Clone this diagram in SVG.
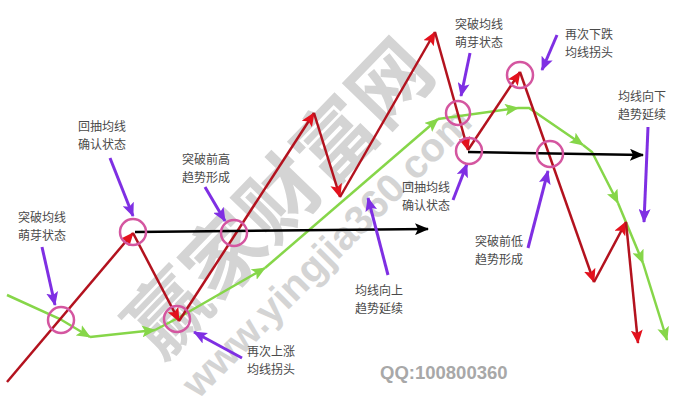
<svg xmlns="http://www.w3.org/2000/svg" width="687" height="417" viewBox="0 0 687 417">
<defs>
<style>
.lbl{font-family:"Noto Sans CJK SC","Noto Sans",sans-serif;font-size:12px;fill:#4a4a4a}
.wm{font-family:"Noto Sans CJK SC","Liberation Sans",sans-serif;font-weight:bold;fill:#d4d4d4}
.red{stroke:#b3121e;stroke-width:2.5;fill:none;marker-end:url(#ar)}
.grn{stroke:#86d649;stroke-width:2.5;fill:none;marker-end:url(#ag)}
.blk{stroke:#000;stroke-width:2.5;fill:none;marker-end:url(#ak)}
.pur{stroke:#7f2fe3;stroke-width:3;fill:none;marker-end:url(#ap)}
.cir{stroke:#d456a0;stroke-width:2.5;fill:none}
</style>
<marker id="ar" markerUnits="userSpaceOnUse" markerWidth="14" markerHeight="12" refX="13" refY="6" orient="auto"><path d="M0,0 L14,6 L0,12 L3,6 z" fill="#e3111d"/></marker>
<marker id="ag" markerUnits="userSpaceOnUse" markerWidth="14" markerHeight="12" refX="13" refY="6" orient="auto"><path d="M0,0 L14,6 L0,12 L3,6 z" fill="#86d649"/></marker>
<marker id="ak" markerUnits="userSpaceOnUse" markerWidth="14" markerHeight="12" refX="13" refY="6" orient="auto"><path d="M0,0 L14,6 L0,12 L3,6 z" fill="#000"/></marker>
<marker id="ap" markerUnits="userSpaceOnUse" markerWidth="14" markerHeight="12" refX="13" refY="6" orient="auto"><path d="M0,0 L14,6 L0,12 L3,6 z" fill="#7f2fe3"/></marker>
</defs>
<rect width="687" height="417" fill="#fff"/>
<g id="watermark">
<text class="wm" font-size="80" text-anchor="middle" transform="translate(300,218) rotate(-46)">赢家财富网</text>
<text class="wm" font-size="40" text-anchor="middle" transform="translate(336,262) rotate(-45)" style="font-family:'Liberation Sans',sans-serif">www.yingjia360.com</text>
<text x="380" y="379" style="font-family:'Liberation Sans',sans-serif;font-weight:bold;font-size:18.5px;fill:#a8a8a8">QQ:100800360</text>
</g>
<g id="connectors">
<g id="ma-line">
<path class="grn" d="M7,295 L60,319 L90,337"/>
<path class="grn" d="M90,337 L155,330"/>
<path class="grn" d="M155,330 L178,318 L265,268"/>
<path class="grn" d="M265,268 L438,119"/>
<path class="grn" d="M438,119 L518,108"/>
<path class="grn" d="M518,108 L529,108 L583,145"/>
<path class="grn" d="M583,145 L592,152 L618,203"/>
<path class="grn" d="M618,203 L643,263"/>
<path class="grn" d="M643,263 L667,340"/>
</g>
<g id="price-line">
<line class="red" x1="7" y1="382" x2="133" y2="233"/>
<line class="red" x1="133" y1="233" x2="179" y2="321"/>
<line class="red" x1="179" y1="321" x2="314" y2="113"/>
<line class="red" x1="314" y1="113" x2="340" y2="197"/>
<line class="red" x1="340" y1="197" x2="435" y2="32"/>
<line class="red" x1="435" y1="32" x2="468" y2="150"/>
<line class="red" x1="468" y1="150" x2="520" y2="72"/>
<line class="red" x1="520" y1="72" x2="594" y2="282"/>
<line class="red" x1="594" y1="282" x2="626" y2="222"/>
<line class="red" x1="626" y1="222" x2="638" y2="343"/>
</g>
<g id="levels">
<line class="blk" x1="135" y1="232" x2="428" y2="229"/>
<line class="blk" x1="468" y1="152" x2="643" y2="155"/>
</g>
<g id="pointers">
<line class="pur" x1="42" y1="247" x2="55" y2="305"/>
<line class="pur" x1="110" y1="158" x2="133" y2="216"/>
<line class="pur" x1="205" y1="187" x2="225" y2="221"/>
<line class="pur" x1="242" y1="358" x2="194" y2="332"/>
<line class="pur" x1="388" y1="275" x2="368" y2="198"/>
<line class="pur" x1="453" y1="200" x2="467" y2="164"/>
<line class="pur" x1="528" y1="248" x2="548" y2="171"/>
<line class="pur" x1="470" y1="53" x2="461" y2="96"/>
<line class="pur" x1="557" y1="35" x2="542" y2="70"/>
<line class="pur" x1="648" y1="127" x2="644" y2="222"/>
</g>
</g>
<g id="markers">
<circle class="cir" cx="61" cy="320" r="13"/>
<circle class="cir" cx="133" cy="232" r="13"/>
<circle class="cir" cx="177" cy="319" r="13"/>
<circle class="cir" cx="234" cy="233" r="13"/>
<circle class="cir" cx="458" cy="113" r="12"/>
<circle class="cir" cx="469" cy="151" r="13"/>
<circle class="cir" cx="520" cy="75" r="13"/>
<circle class="cir" cx="550" cy="154" r="13"/>
</g>
<g id="n1"><text class="lbl" x="18" y="222">突破均线</text><text class="lbl" x="18" y="240">萌芽状态</text></g>
<g id="n2"><text class="lbl" x="78" y="131">回抽均线</text><text class="lbl" x="78" y="149">确认状态</text></g>
<g id="n3"><text class="lbl" x="182" y="164">突破前高</text><text class="lbl" x="182" y="182">趋势形成</text></g>
<g id="n4"><text class="lbl" x="247" y="356">再次上涨</text><text class="lbl" x="247" y="374">均线拐头</text></g>
<g id="n5"><text class="lbl" x="355" y="295">均线向上</text><text class="lbl" x="355" y="313">趋势延续</text></g>
<g id="n6"><text class="lbl" x="402" y="192">回抽均线</text><text class="lbl" x="402" y="210">确认状态</text></g>
<g id="n7"><text class="lbl" x="475" y="246">突破前低</text><text class="lbl" x="475" y="264">趋势形成</text></g>
<g id="n8"><text class="lbl" x="455" y="29">突破均线</text><text class="lbl" x="455" y="47">萌芽状态</text></g>
<g id="n9"><text class="lbl" x="565" y="39">再次下跌</text><text class="lbl" x="565" y="57">均线拐头</text></g>
<g id="n10"><text class="lbl" x="618" y="101">均线向下</text><text class="lbl" x="618" y="119">趋势延续</text></g>
</svg>
